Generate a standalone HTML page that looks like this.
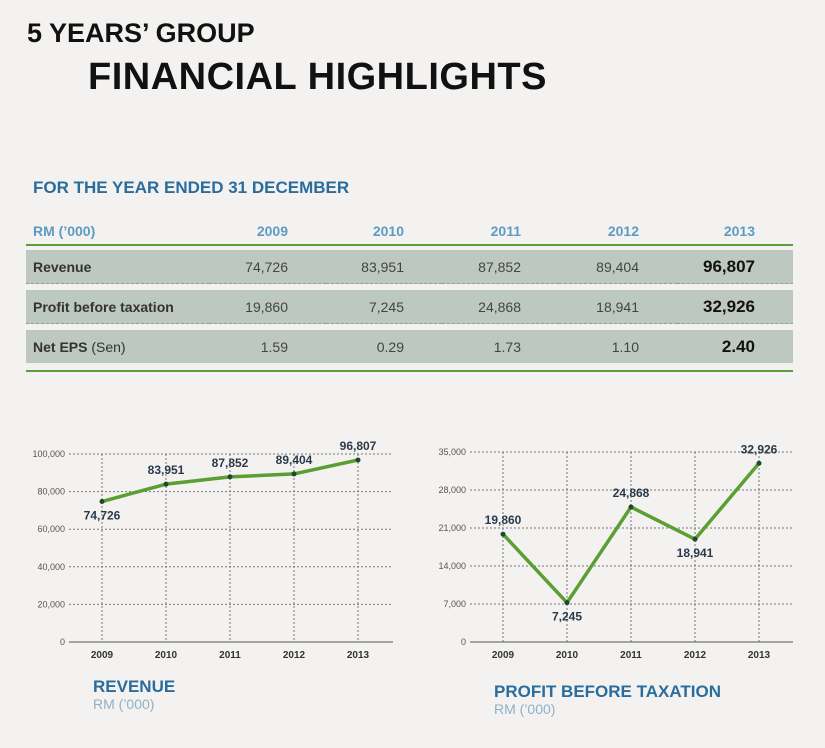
<!DOCTYPE html>
<html><head><meta charset="utf-8"><style>
body{margin:0;width:825px;height:748px;background:#f3f2f0;font-family:"Liberation Sans Narrow","Liberation Sans",sans-serif;overflow:hidden;position:relative}
.abs{position:absolute}
.t1{left:27px;top:18px;font:bold 27px "Liberation Sans",sans-serif;color:#111}
.t2{left:88px;top:56px;font:bold 38px "Liberation Sans",sans-serif;color:#111;letter-spacing:0.5px}
.sub{left:33px;top:178px;font:bold 17px "Liberation Sans",sans-serif;color:#2a6d9c}
table{position:absolute;left:26px;top:218px;width:767px;border-collapse:collapse;table-layout:fixed;font-family:"Liberation Sans",sans-serif}
th{color:#5d9bc2;font-size:14px;text-align:right;height:26px;font-weight:bold;border-bottom:2px solid #5a9e3c;padding:0 38px 0 0}
th:first-child{text-align:left;padding:0 0 0 7px}
td{background:#bdc8c1;height:33px;font-size:14px;color:#444;text-align:right;padding:0 38px 0 0;white-space:nowrap}
td:first-child{text-align:left;font-weight:bold;padding:0 0 0 7px;color:#333}
td.b{font-weight:bold;font-size:17px;color:#111}
tr.sp td{height:6px;background:#f3f2f0;border-top:1px dashed #999;padding:0}
tr.sp2 td{height:7px;background:#f3f2f0;border-bottom:2px solid #5a9e3c;padding:0}
.ct{font:bold 17px "Liberation Sans",sans-serif;color:#2a6d9c}
.cs{font:14px "Liberation Sans",sans-serif;color:#8fb1c8}
</style></head><body>
<div class="abs t1">5 YEARS’ GROUP</div>
<div class="abs t2">FINANCIAL HIGHLIGHTS</div>
<div class="abs sub">FOR THE YEAR ENDED 31 DECEMBER</div>
<table>
<colgroup><col style="width:183px"><col style="width:117px"><col style="width:116px"><col style="width:117px"><col style="width:118px"><col style="width:116px"></colgroup>
<tr><th>RM (’000)</th><th>2009</th><th>2010</th><th>2011</th><th>2012</th><th>2013</th></tr>
<tr><td colspan="6" style="height:4px;background:#f3f2f0;padding:0"></td></tr>
<tr><td>Revenue</td><td>74,726</td><td>83,951</td><td>87,852</td><td>89,404</td><td class="b">96,807</td></tr>
<tr class="sp"><td colspan="6"></td></tr>
<tr><td>Profit before taxation</td><td>19,860</td><td>7,245</td><td>24,868</td><td>18,941</td><td class="b">32,926</td></tr>
<tr class="sp"><td colspan="6"></td></tr>
<tr><td>Net EPS <span style="font-weight:normal">(Sen)</span></td><td>1.59</td><td>0.29</td><td>1.73</td><td>1.10</td><td class="b">2.40</td></tr>
<tr class="sp2"><td colspan="6"></td></tr>
</table>
<svg class="abs" style="left:0;top:0" width="825" height="748" id="charts"></svg>
<div class="abs ct" style="left:93px;top:677px">REVENUE</div>
<div class="abs cs" style="left:93px;top:696px">RM (’000)</div>
<div class="abs ct" style="left:494px;top:682px">PROFIT BEFORE TAXATION</div>
<div class="abs cs" style="left:494px;top:701px">RM (’000)</div>
<script>
const years=["2009","2010","2011","2012","2013"];
const revenue=[74726,83951,87852,89404,96807];
const profit=[19860,7245,24868,18941,32926];
const revTicks=[0,20000,40000,60000,80000,100000];
const profTicks=[0,7000,14000,21000,28000,35000];
const revLabelOffsets=[1,-1,-1,-1,-1];
const profLabelOffsets=[-1,1,-1,1,-1];
const svg=document.getElementById('charts');
const NS='http://www.w3.org/2000/svg';
function mk(t,a){const e=document.createElementNS(NS,t);for(const k in a)e.setAttribute(k,a[k]);svg.appendChild(e);return e;}
function chart(name,vals,ticks,offs,x0,x1,axL,axR,yTop,yBot){
  const max=ticks[ticks.length-1];
  const y=v=>yBot-(v/max)*(yBot-yTop);
  const x=i=>x0+i*(x1-x0)/(years.length-1);
  ticks.forEach(t=>{
    if(t>0){const l=mk('line',{x1:axL,x2:axR,y1:y(t),y2:y(t),stroke:'#777','stroke-width':1,'stroke-dasharray':'2,2'});
    
    }
    const tx=mk('text',{x:axL-4,y:y(t)+3,'text-anchor':'end','font-size':9,fill:'#555','font-family':'Liberation Sans Narrow, Liberation Sans, sans-serif'});
    tx.textContent=t.toLocaleString('en-US');
    
    
  });
  years.forEach((yr,i)=>{
    const l=mk('line',{x1:x(i),x2:x(i),y1:yTop,y2:yBot,stroke:'#777','stroke-width':1,'stroke-dasharray':'2,2'});
    
    
    const tx=mk('text',{x:x(i),y:yBot+16,'text-anchor':'middle','font-size':10,'font-weight':'bold',fill:'#333','font-family':'Liberation Sans Narrow, Liberation Sans, sans-serif'});
    tx.textContent=yr;
    
    
  });
  const ax=mk('line',{x1:axL,x2:axR,y1:yBot,y2:yBot,stroke:'#555','stroke-width':1});
  
  
  const pl=mk('polyline',{points:vals.map((v,i)=>x(i)+','+y(v)).join(' '),fill:'none',stroke:'#5b9e32','stroke-width':3.5,'stroke-linejoin':'round'});
  
  
  vals.forEach((v,i)=>{
    const c=mk('circle',{cx:x(i),cy:y(v),r:2.5,fill:'#1f4a2a'});
    
    
    const tx=mk('text',{x:x(i),y:offs[i]<0?y(v)-10:y(v)+18,'text-anchor':'middle','font-size':12,'font-weight':'bold',fill:'#2b3a4a','font-family':'Liberation Sans, sans-serif'});
    tx.textContent=v.toLocaleString('en-US');
    
    
  });
}
chart('revenue-chart',revenue,revTicks,revLabelOffsets,102,358,69,393,454,642);
chart('profit-chart',profit,profTicks,profLabelOffsets,503,759,470,793,452,642);
</script>
</body></html>
